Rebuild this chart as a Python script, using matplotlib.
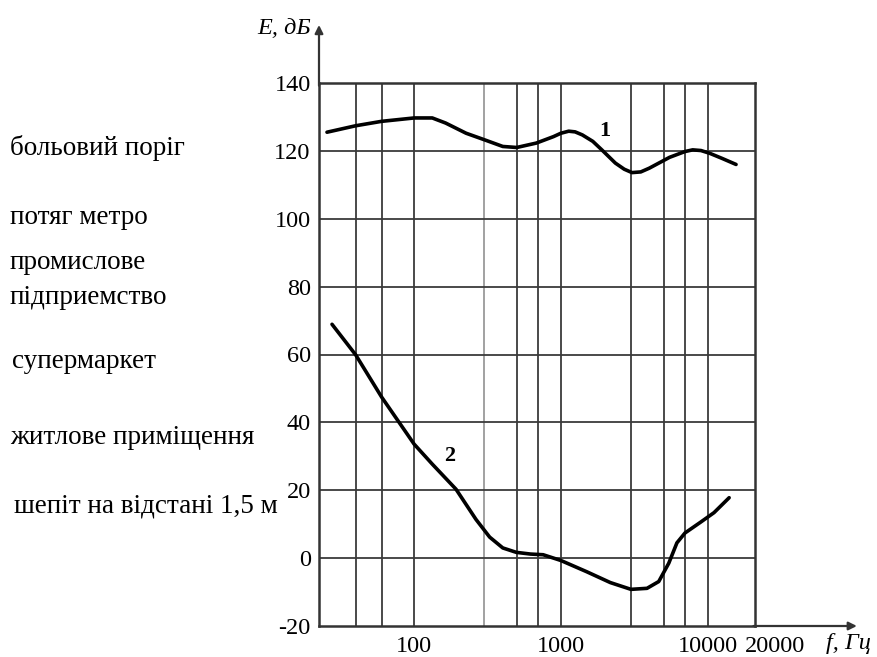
import numpy as np
import matplotlib
matplotlib.use('Agg')
import matplotlib.pyplot as plt
import matplotlib.transforms as mtransforms

## data
# curve 1: pain threshold
freq_1 = [25.5, 40, 60, 100, 133, 164, 226, 300, 402, 500, 680, 890, 1000, 1130,
          1250, 1400, 1650, 1900, 2350, 2700, 3050, 3500, 4000, 5500, 7000, 7900,
          9000, 10300, 12500, 15600]
level_1 = [125.5, 127.4, 128.7, 129.7, 129.7, 128.2, 125.2, 123.3, 121.3, 121, 122.3,
           124.2, 125.2, 125.8, 125.6, 124.7, 122.8, 120.3, 116.4, 114.6, 113.6, 113.8,
           114.9, 118.1, 119.8, 120.3, 120.1, 119.3, 117.8, 116]
# curve 2: hearing threshold
freq_2 = [27.6, 40, 60, 100, 133, 193, 264, 327, 402, 497, 620, 757, 1000, 1497,
          2170, 3000, 3860, 4640, 5430, 6170, 7000, 8950, 11040, 14000]
level_2 = [68.9, 59.9, 47.5, 33.6, 27.7, 20.3, 11.4, 6.2, 3, 1.7, 1.2, 1.0, -0.7, -4,
           -7.2, -9.2, -8.9, -6.9, -1.5, 4.5, 7.4, 10.6, 13.4, 17.8]

grid_freqs = [40, 60, 100, 300, 500, 700, 1000, 3000, 5000, 7000, 10000]
x_ticks = [100, 1000, 10000, 21000]
x_ticklabels = ['100', '1000', '10000', '20000']
y_ticks = list(range(-20, 141, 20))

side_labels = ['больовий поріг', 'потяг метро', 'промислове\nпідприемство',
               'супермаркет', 'житлове приміщення', 'шепіт на відстані 1,5 м']
side_label_y = [148, 217, 280, 362, 437, 506]   # pixel rows of the labels
side_label_x = [10, 10, 10, 12, 10, 14]

matplotlib.rcParams['font.family'] = ['Liberation Serif', 'DejaVu Serif']
matplotlib.rcParams['axes.unicode_minus'] = False
tick_size = 17.5
label_size = 19.5

W, H = 877, 657
fig = plt.figure(figsize=(W/100., H/100.), dpi=100)
ax = fig.add_axes([319./W, 1 - 626./H, 436./W, 543./H])

ax.set_xscale('log')
ax.set_xlim(22.5, 21000)
ax.set_ylim(-20, 140)

## grid
for f in grid_freqs:
    c = '#9a9a9a' if f == 300 else '#3a3a3a'
    ax.axvline(f, color=c, linewidth=1.3, zorder=1)
for v in y_ticks[1:-1]:
    ax.axhline(v, color='#3a3a3a', linewidth=1.3, zorder=1)

## curves
ax.plot(freq_1, level_1, color='black', linewidth=2.6, zorder=3,
        solid_joinstyle='round', solid_capstyle='round')
ax.plot(freq_2, level_2, color='black', linewidth=2.6, zorder=3,
        solid_joinstyle='round', solid_capstyle='round')
ax.text(2000, 126, '1', fontsize=16, fontweight='bold', ha='center', va='center')
ax.text(174, 30, '2', fontsize=16, fontweight='bold', ha='center', va='center')

## axes makeup
for s in ['left', 'bottom', 'top', 'right']:
    ax.spines[s].set_linewidth(1.8)
    ax.spines[s].set_color('#333333')
ax.set_xticks(x_ticks)
ax.set_xticklabels(x_ticklabels)
ax.xaxis.set_minor_locator(matplotlib.ticker.NullLocator())
ax.set_yticks(y_ticks)
ax.tick_params(length=0, labelsize=tick_size)
ax.tick_params(axis='y', pad=6)
ax.tick_params(axis='x', pad=7)
# the 20000 label sits to the right of the frame
last = ax.get_xticklabels()[-1]
last.set_transform(last.get_transform() +
                   mtransforms.ScaledTranslation(0.2, 0, fig.dpi_scale_trans))

## arrows on the axes
ax.annotate('', xy=(0, 1.112), xytext=(0, 0.99), xycoords='axes fraction',
            arrowprops=dict(arrowstyle='-|>', color='#333333', lw=1.6, mutation_scale=12),
            annotation_clip=False)
ax.annotate('', xy=(1.24, 0), xytext=(0.99, 0), xycoords='axes fraction',
            arrowprops=dict(arrowstyle='-|>', color='#333333', lw=1.6, mutation_scale=12),
            annotation_clip=False)
fig.text(311./W, 1 - 29./H, 'E, дБ', fontsize=tick_size, style='italic',
         ha='right', va='center')
fig.text(826./W, 1 - 644./H, 'f, Гц', fontsize=tick_size, style='italic',
         ha='left', va='center')

## labels on the left
for lab, x, y in zip(side_labels, side_label_x, side_label_y):
    fig.text(float(x)/W, 1 - float(y)/H, lab, fontsize=label_size, ha='left', va='center',
             linespacing=1.55)

plt.savefig('out.png', dpi=100)
